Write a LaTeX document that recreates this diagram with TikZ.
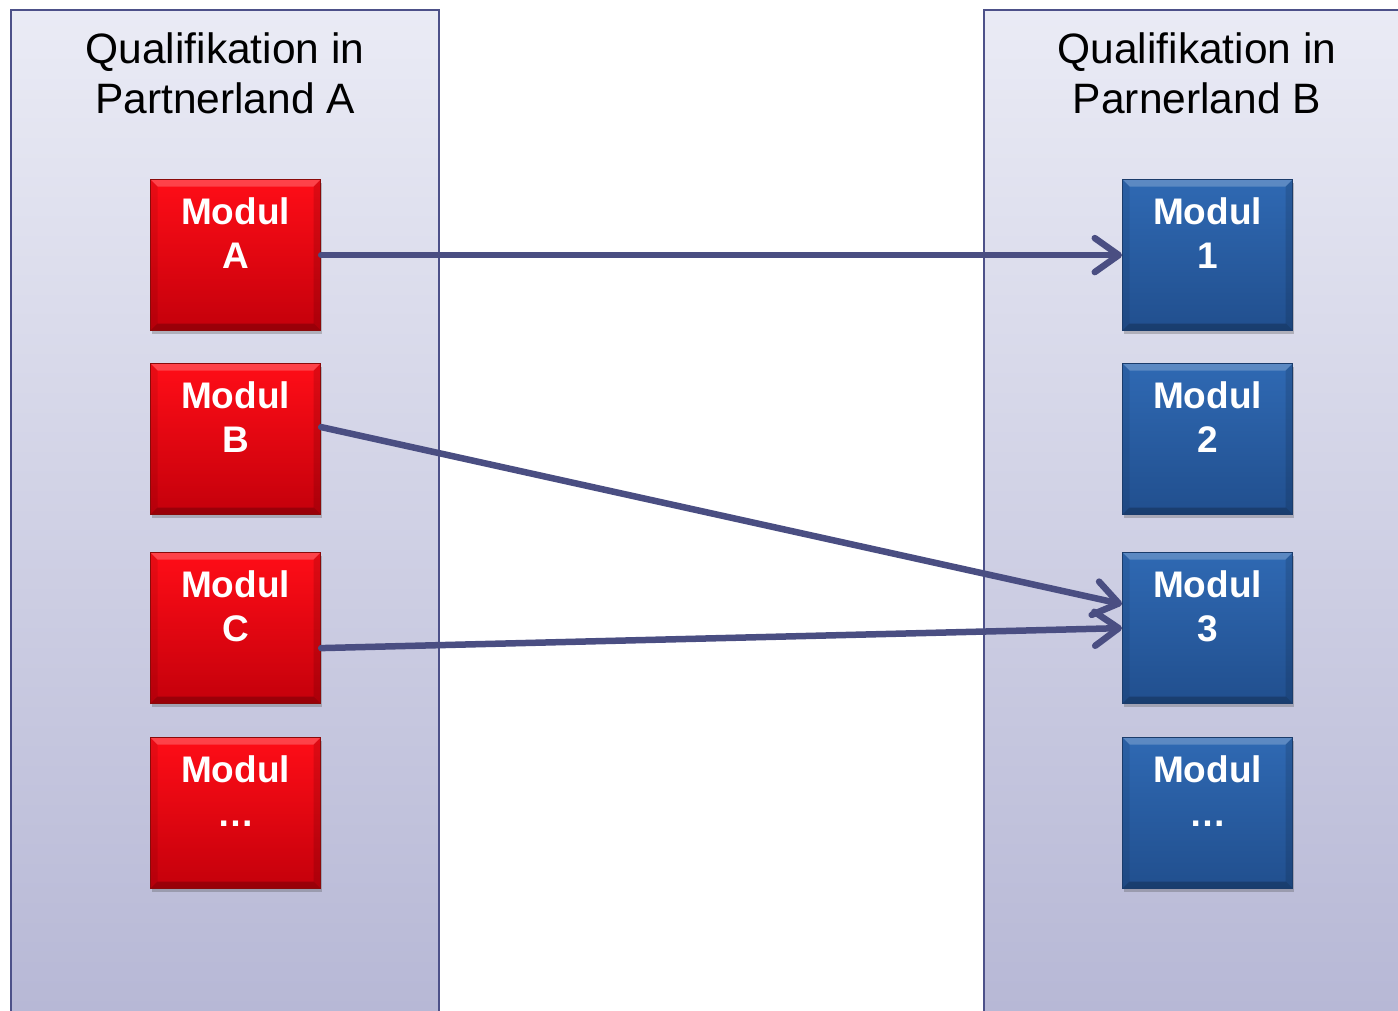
\documentclass[tikz,border=0pt]{standalone}
\usepackage{fontspec}
\setmainfont{Liberation Sans}
\usetikzlibrary{arrows.meta,shadows,calc}
\definecolor{panelTop}{HTML}{EAEBF5}
\definecolor{panelBot}{HTML}{B6B7D5}
\definecolor{panelLine}{HTML}{4D5189}
\definecolor{arrowCol}{HTML}{4A4E82}
\definecolor{redTop}{HTML}{FF0D17}
\definecolor{redBot}{HTML}{C4000B}
\definecolor{redLine}{HTML}{8A0A0A}
\definecolor{blueTop}{HTML}{2F69B3}
\definecolor{blueBot}{HTML}{214F8E}
\definecolor{blueLine}{HTML}{1B3C6B}
\begin{document}
\begin{tikzpicture}[x=1pt,y=-1pt,
  panel/.style={top color=panelTop, bottom color=panelBot, draw=panelLine, line width=1.5pt},
  bevel/.style={path picture={
    \coordinate (nw) at (path picture bounding box.north west);
    \coordinate (ne) at (path picture bounding box.north east);
    \coordinate (sw) at (path picture bounding box.south west);
    \coordinate (se) at (path picture bounding box.south east);
    \fill[white, opacity=0.22] (nw) -- (ne) -- ($(ne)+(-7,7)$) -- ($(nw)+(7,7)$) -- cycle;
    \fill[black, opacity=0.22] (sw) -- (se) -- ($(se)+(-7,-7)$) -- ($(sw)+(7,-7)$) -- cycle;
    \fill[black, opacity=0.08] (nw) -- ($(nw)+(7,7)$) -- ($(sw)+(7,-7)$) -- (sw) -- cycle;
    \fill[black, opacity=0.12] (ne) -- ($(ne)+(-7,7)$) -- ($(se)+(-7,-7)$) -- (se) -- cycle;
  }},
  modbox/.style={line width=1.2pt, minimum width=170pt, minimum height=151pt, inner sep=0pt,
    anchor=north west, bevel,
    drop shadow={opacity=0.3, shadow xshift=1.5pt, shadow yshift=-3.5pt, fill=black!70}},
  redmod/.style={modbox, draw=redLine, top color=redTop, bottom color=redBot},
  bluemod/.style={modbox, draw=blueLine, top color=blueTop, bottom color=blueBot},
  modtext/.style={text=white, font=\fontsize{37}{44}\bfseries\selectfont, align=center, anchor=north, inner sep=0pt},
  titletext/.style={font=\fontsize{42.5}{50}\selectfont, align=center, anchor=north, inner sep=0pt},
  conn/.style={draw=arrowCol, line width=6.5pt, line cap=round,
    -{Straight Barb[length=24pt, width=34pt, line width=6.5pt, round]}}]
\path[use as bounding box] (0,0) rectangle (1398,1011);
\clip (0,0) rectangle (1398,1011);
\fill[white] (0,0) rectangle (1398,1011);
% panels
\path[panel] (11,10) rectangle (439,1030);
\path[panel] (984,10) rectangle (1420,1030);
\node[titletext] (tA) at (225,33) {Qualifikation in\\Partnerland A};
\node[titletext] (tB) at (1197,33) {Qualifikation in\\Parnerland B};
% left modules
\node[redmod] (mA) at (150,179) {};
\node[redmod] (mB) at (150,363) {};
\node[redmod] (mC) at (150,552) {};
\node[redmod] (mD) at (150,737) {};
\node[modtext] (lA) at ($(mA.north)+(0,18)$) {Modul\\A};
\node[modtext] (lB) at ($(mB.north)+(0,18)$) {Modul\\B};
\node[modtext] (lC) at ($(mC.north)+(0,18)$) {Modul\\C};
\node[modtext] (lD) at ($(mD.north)+(0,18)$) {Modul\\…};
% right modules
\node[bluemod] (m1) at (1122,179) {};
\node[bluemod] (m2) at (1122,363) {};
\node[bluemod] (m3) at (1122,552) {};
\node[bluemod] (m4) at (1122,737) {};
\node[modtext] (l1) at ($(m1.north)+(0,18)$) {Modul\\1};
\node[modtext] (l2) at ($(m2.north)+(0,18)$) {Modul\\2};
\node[modtext] (l3) at ($(m3.north)+(0,18)$) {Modul\\3};
\node[modtext] (l4) at ($(m4.north)+(0,18)$) {Modul\\…};
% connectors
\draw[conn] (mA.east) -- (m1.west);
\draw[conn] ([yshift=12pt]mB.east) -- ([yshift=24pt]m3.west);
\draw[conn] ([yshift=-20pt]mC.east) -- (m3.west);
\end{tikzpicture}
\end{document}
